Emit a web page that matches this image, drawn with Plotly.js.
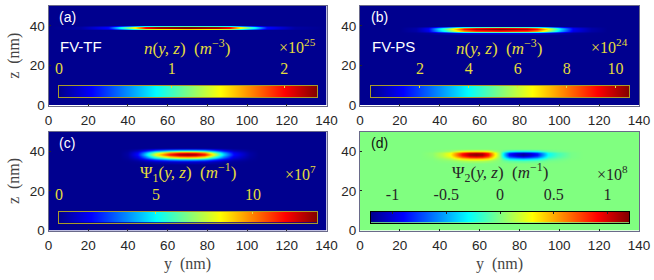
<!DOCTYPE html>
<html><head><meta charset="utf-8">
<script src="https://cdn.plot.ly/plotly-3.0.1.min.js"></script>
<style>html,body{margin:0;padding:0;background:#fff}#c{width:654px;height:280px}</style>
</head><body><div id="c"></div>
<script>
const jet=[[0,'rgb(0,0,143)'],[0.125,'rgb(0,0,255)'],[0.375,'rgb(0,255,255)'],[0.5,'rgb(128,255,128)'],[0.625,'rgb(255,255,0)'],[0.875,'rgb(255,0,0)'],[1,'rgb(128,0,0)']];

const xTicks=[0,20,40,60,80,100,120,140];
const zTicks=[0,20,40];

const aY=[0,16,30,36,40,44,49,55,70,85,91,96,100,104,110,124,140];
const aZ=[0,37.7,38.1,38.5,38.9,39.7,40,40.3,50];
const aVal=[
[0,0,0,0,0,0,0,0,0,0,0,0,0,0,0,0,0],
[0,0,0,0,0,0,0,0,0,0,0,0,0,0,0,0,0],
[0,.02,.09,.24,.33,.44,.59,.65,.69,.65,.59,.44,.33,.24,.09,.02,0],
[0,.04,.2,.52,.72,.94,1.27,1.4,1.5,1.4,1.27,.94,.72,.52,.2,.04,0],
[0,.05,.3,.8,1.1,1.45,2.0,2.2,2.3,2.2,2.0,1.45,1.1,.8,.3,.05,0],
[0,.05,.3,.8,1.1,1.45,2.0,2.2,2.3,2.2,2.0,1.45,1.1,.8,.3,.05,0],
[0,.02,.14,.36,.5,.65,.88,.97,1.04,.97,.88,.65,.5,.36,.14,.02,0],
[0,0,0,0,0,0,0,0,0,0,0,0,0,0,0,0,0],
[0,0,0,0,0,0,0,0,0,0,0,0,0,0,0,0,0]];
const aTicks=[0,1,2];
const aBar=[0,0.29,0.86,1.15,1.43,2.0,2.29];

const bY=[0,20,28,34,39,43,47,52,58,70,84,89,94,98,101,107,116,124,140];
const bZ=[0,35.5,36.2,37,37.6,38.2,39,39.6,40.1,50];
const bVal=[
[0,0,0,0,0,0,0,0,0,0,0,0,0,0,0,0,0,0,0],
[0,0,0,0,0,0,0,0,0,0,0,0,0,0,0,0,0,0,0],
[0,0,.03,.12,.35,.5,.68,.9,1,1.05,1,.9,.68,.5,.35,.12,.03,0,0],
[0,0,.13,.54,1.6,2.25,3.1,4.05,4.5,4.7,4.5,4.05,3.1,2.25,1.6,.54,.13,0,0],
[0,0,.25,1.0,3,4.25,5.8,7.65,8.5,8.9,8.5,7.65,5.8,4.25,3,1,.25,0,0],
[0,0,.3,1.2,3.5,5,6.8,9,10,10.5,10,9,6.8,5,3.5,1.2,.3,0,0],
[0,0,.27,1.1,3.15,4.5,6.1,8.1,9,9.45,9,8.1,6.1,4.5,3.15,1.1,.27,0,0],
[0,0,.13,.54,1.6,2.25,3.1,4.05,4.5,4.9,4.5,4.05,3.1,2.25,1.6,.54,.13,0,0],
[0,0,0,0,0,0,0,0,0,0,0,0,0,0,0,0,0,0,0],
[0,0,0,0,0,0,0,0,0,0,0,0,0,0,0,0,0,0,0]];
const bTicks=[2,4,6,8,10];
const bBar=[0,1.32,3.96,5.28,6.59,9.23,10.55];

const cY=[0,36,40,45,49,54,61,66,70,74,78.5,83,88,93,101,106,140];
const cZ=[0,33.5,34.7,35.8,37,38.6,39.6,40.4,41.3,42,50];
const cVal=[
[0,0,0,0,0,0,0,0,0,0,0,0,0,0,0,0,0],
[0,0,0,0,0,0,0,0,0,0,0,0,0,0,0,0,0],
[0,0,.02,.14,.36,.66,.93,1.04,1.06,1.04,.93,.66,.36,.14,.02,0,0],
[0,0,.09,.54,1.35,2.46,3.48,3.9,3.99,3.9,3.48,2.46,1.35,.54,.09,0,0],
[0,0,.2,1.17,2.93,5.33,7.54,8.45,8.65,8.45,7.54,5.33,2.93,1.17,.2,0,0],
[0,0,.3,1.8,4.5,8.2,11.6,13,13.3,13,11.6,8.2,4.5,1.8,.3,0,0],
[0,0,.26,1.53,3.83,6.97,9.86,11.05,11.3,11.05,9.86,6.97,3.83,1.53,.26,0,0],
[0,0,.12,.72,1.8,3.28,4.64,5.2,5.32,5.2,4.64,3.28,1.8,.72,.12,0,0],
[0,0,.02,.11,.27,.49,.7,.78,.8,.78,.7,.49,.27,.11,.02,0,0],
[0,0,0,0,0,0,0,0,0,0,0,0,0,0,0,0,0],
[0,0,0,0,0,0,0,0,0,0,0,0,0,0,0,0,0]];
const cTicks=[0,5,10];
const cBar=[0,1.66,4.99,6.65,8.31,11.64,13.3];

const dY=[0,30,36,41,45,51,55,58,61,64,67,70,72,75,79,82,85,89,94.5,99,106,112,140];
const dZ=[0,34,35.4,36.4,37.3,38.2,39.2,40,40.7,41.5,50];
const dVal=[
[0,0,0,0,0,0,0,0,0,0,0,0,0,0,0,0,0,0,0,0,0,0,0],
[0,0,0,0,0,0,0,0,0,0,0,0,0,0,0,0,0,0,0,0,0,0,0],
[0,0,0,.02,.03,.09,.12,.12,.12,.09,.04,0,-.04,-.09,-.11,-.12,-.11,-.09,-.03,-.02,0,0,0],
[0,0,.01,.06,.12,.36,.46,.48,.46,.36,.16,0,-.14,-.36,-.44,-.48,-.44,-.36,-.12,-.06,-.01,0,0],
[0,0,.02,.12,.24,.72,.92,.96,.92,.72,.32,0,-.28,-.72,-.88,-.96,-.88,-.72,-.24,-.12,-.02,0,0],
[0,0,.03,.15,.3,.9,1.15,1.2,1.15,.9,.4,0,-.35,-.9,-1.1,-1.2,-1.1,-.9,-.3,-.15,-.02,0,0],
[0,0,.03,.13,.26,.77,.98,1.02,.98,.77,.34,0,-.3,-.77,-.94,-1.02,-.94,-.77,-.26,-.13,-.02,0,0],
[0,0,.01,.05,.1,.32,.4,.42,.4,.32,.14,0,-.12,-.32,-.39,-.42,-.39,-.32,-.1,-.05,-.01,0,0],
[0,0,0,.01,.02,.05,.06,.06,.06,.05,.02,0,-.02,-.05,-.06,-.06,-.06,-.05,-.02,-.01,0,0,0],
[0,0,0,0,0,0,0,0,0,0,0,0,0,0,0,0,0,0,0,0,0,0,0],
[0,0,0,0,0,0,0,0,0,0,0,0,0,0,0,0,0,0,0,0,0,0,0]];
const dTicks=[-1,-0.5,0,0.5,1];
const dBar=[-1.2,-0.9,-0.3,0,0.3,0.9,1.2];

const W=654,H=280;
const yellow='#e4dc3c', ink='#262626', axisInk='#444444';
const serif='Liberation Serif', sans='Liberation Sans';
const px=v=>v/W, py=v=>1-v/H;

function hm(x,y,z,zmin,zmax,ax){
  return {type:'heatmap',x:x,y:y,z:z,zmin:zmin,zmax:zmax,colorscale:jet,zsmooth:'best',
    xaxis:'x'+ax,yaxis:'y'+ax,hoverinfo:'skip',showscale:false};
}
const data=[
 hm(aY,aZ,aVal,0,2.29,''),
 hm(bY,bZ,bVal,0,10.55,'2'),
 hm(cY,cZ,cVal,0,13.3,'3'),
 hm(dY,dZ,dVal,-1.2,1.2,'4'),
 hm(aBar,[0,1],[aBar,aBar],0,2.29,'5'),
 hm(bBar,[0,1],[bBar,bBar],0,10.55,'6'),
 hm(cBar,[0,1],[cBar,cBar],0,13.3,'7'),
 hm(dBar,[0,1],[dBar,dBar],-1.2,1.2,'8')
];
const frame='#6a6a8a';
function xa(l,r,anc,title){
  const o={domain:[px(l),px(r)],range:[0,140],tickvals:xTicks,ticks:'inside',ticklen:2,tickcolor:ink,ticklabelstandoff:2,
    tickfont:{family:sans,size:13.5,color:ink},showgrid:false,zeroline:false,showline:true,linecolor:frame,linewidth:1,mirror:true,anchor:anc};
  if(title)o.title={text:title,font:{family:serif,size:16,color:axisInk},standoff:6};
  return o;
}
function ya(t,b,anc,title){
  const o={domain:[1-b/H,1-t/H],range:[0,50],tickvals:zTicks,ticks:'inside',ticklen:2,tickcolor:ink,
    tickfont:{family:sans,size:13.5,color:ink},showgrid:false,zeroline:false,showline:true,linecolor:frame,linewidth:1,mirror:true,anchor:anc};
  if(title)o.title={text:title,font:{family:serif,size:16,color:axisInk},standoff:6};
  return o;
}
function barX(l,r,rng,ticks,anc,line,col,off){
  return {domain:[px(l),px(r)],range:rng,side:'top',anchor:anc,tickmode:'array',tickvals:ticks,ticktext:ticks.map(String),
    ticks:'inside',ticklen:2,tickcolor:col,ticklabelstandoff:off,tickfont:{family:serif,size:16,color:col},
    showgrid:false,zeroline:false,showline:true,linecolor:line,linewidth:1,mirror:true};
}
function barY(t,b,anc,line){
  return {domain:[1-b/H,1-t/H],range:[0,1],anchor:anc,showticklabels:false,ticks:'',showgrid:false,zeroline:false,
    showline:true,linecolor:line,linewidth:1,mirror:true};
}
function note(x,y,text,color,fam,size,anchor){
  return {xref:'paper',yref:'paper',x:px(x),y:py(y),text:text,showarrow:false,xanchor:anchor||'center',yanchor:'middle',
    font:{family:fam,size:size,color:color},borderpad:0};
}
const nTitle='<i>n</i>(<i>y, z</i>)\u00a0\u00a0(<i>m</i><sup>−3</sup>)';
const psi1='Ψ<sub>1</sub>(<i>y, z</i>)\u00a0\u00a0(<i>m</i><sup>−1</sup>)';
const psi2='Ψ<sub>2</sub>(<i>y, z</i>)\u00a0\u00a0(<i>m</i><sup>−1</sup>)';
const olive='#a89a28';
const layout={width:W,height:H,margin:{l:0,r:0,t:0,b:0,autoexpand:false},paper_bgcolor:'#fff',plot_bgcolor:'rgba(0,0,0,0)',showlegend:false,
 xaxis:xa(48.5,326.5,'y'),yaxis:ya(6,105.5,'x','z\u00a0\u00a0(nm)'),
 xaxis2:xa(360,639,'y2'),yaxis2:ya(6,105.5,'x2'),
 xaxis3:xa(48.5,326.5,'y3','y\u00a0\u00a0(nm)'),yaxis3:ya(131.5,230.5,'x3','z\u00a0\u00a0(nm)'),
 xaxis4:xa(360,639,'y4','y\u00a0\u00a0(nm)'),yaxis4:ya(131.5,230.5,'x4'),
 xaxis5:barX(59,317,[0,2.29],aTicks,'y5',olive,yellow,5),yaxis5:barY(86,97,'x5',olive),
 xaxis6:barX(371,629,[0,10.55],bTicks,'y6',olive,yellow,5),yaxis6:barY(86,97,'x6',olive),
 xaxis7:barX(59,317,[0,13.3],cTicks,'y7',olive,yellow,4),yaxis7:barY(211.5,222.5,'x7',olive),
 xaxis8:barX(371,629,[-1.2,1.2],dTicks,'y8','#000000',ink,4),yaxis8:barY(211.5,222.5,'x8','#000000'),
 annotations:[
  note(58,17,'(a)','#fff',sans,14,'left'),note(59,47,'FV-TF','#fff',sans,15,'left'),
  note(187,47,nTitle,yellow,serif,17),note(317,46,'×10<sup>25</sup>',yellow,serif,16,'right'),
  note(370,17,'(b)','#fff',sans,14,'left'),note(371,47,'FV-PS','#fff',sans,15,'left'),
  note(499,47,nTitle,yellow,serif,17),note(629,46,'×10<sup>24</sup>',yellow,serif,16,'right'),
  note(58,143,'(c)','#fff',sans,14,'left'),
  note(188,172,psi1,yellow,serif,17),note(317,173,'×10<sup>7</sup>',yellow,serif,16,'right'),
  note(370,143,'(d)','#111',sans,14,'left'),
  note(500,172,psi2,ink,serif,17),note(629,173,'×10<sup>8</sup>',ink,serif,16,'right')
 ]};
Plotly.newPlot('c',data,layout,{displayModeBar:false,staticPlot:true});
</script></body></html>
